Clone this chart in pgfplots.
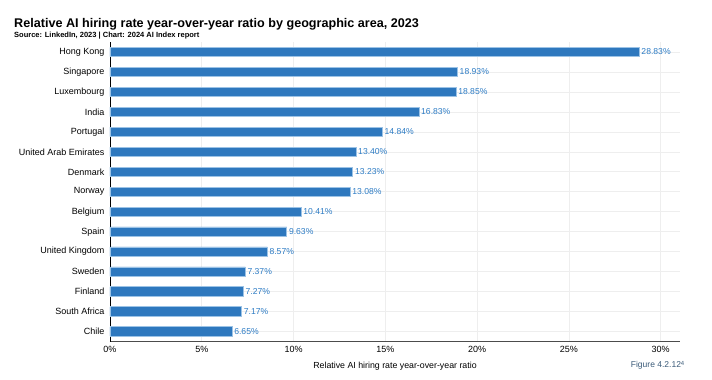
\documentclass[border=0pt]{standalone}
\usepackage{pgfplots}
\pgfplotsset{compat=1.18}
\usepackage{fontspec}
\setmainfont{Liberation Sans}
\definecolor{barblue}{HTML}{2E78BE}
\definecolor{baredge}{HTML}{9CC3E6}
\definecolor{lblblue}{HTML}{2C7BC4}
\definecolor{gridc}{HTML}{EEEEEE}
\definecolor{figc}{HTML}{3A5A78}
\begin{document}
\begin{tikzpicture}[x=1pt,y=1pt]
\path[use as bounding box] (0,0) rectangle (712,380);
\node[inner sep=0pt,anchor=base west,font=\bfseries\fontsize{12.6}{15}\selectfont] at (14,352) {Relative AI hiring rate year-over-year ratio by geographic area, 2023};
\node[inner sep=0pt,anchor=base west,font=\bfseries\fontsize{7.5}{8}\selectfont] at (14,342) {Source: LinkedIn, 2023 | Chart: 2024 AI Index report};
\node[inner sep=0pt,anchor=base east,font=\fontsize{8.5}{10}\selectfont,text=figc] at (685,12) {Figure 4.2.12\textsuperscript{4}};
\begin{axis}[
  at={(110pt,38.5pt)}, anchor=south west,
  scale only axis, width=570pt, height=299.5pt,
  xbar, bar width=0.47,
  y dir=reverse,
  xmin=0, xmax=31.05, ymin=-0.5, ymax=14.5,
  ytick={0,...,14},
  yticklabels={Hong Kong,Singapore,Luxembourg,India,Portugal,United Arab Emirates,Denmark,Norway,Belgium,Spain,United Kingdom,Sweden,Finland,South Africa,Chile},
  xtick={0,5,...,30},
  xticklabel={\pgfmathprintnumber{\tick}\%},
  /pgf/number format/assume math mode=true,
  axis x line*=bottom, axis y line*=left,
  x axis line style={draw=black!70,line width=0.8pt},
  y axis line style={draw=black,line width=0.8pt},
  major tick length=0pt,
  grid=major, major grid style={gridc,line width=0.6pt},
  tick label style={font=\fontsize{9}{10}\selectfont},
  yticklabel style={xshift=-2pt},
  xticklabel style={yshift=-1pt},
  xlabel={Relative AI hiring rate year-over-year ratio},
  xlabel style={font=\fontsize{8.8}{10}\selectfont, yshift=-3pt},
  point meta=x,
  nodes near coords={\pgfmathprintnumber[fixed,fixed zerofill,precision=2]{\pgfplotspointmeta}\%},
  nodes near coords style={font=\fontsize{8.6}{10}\selectfont,text=lblblue,anchor=west,xshift=-1.5pt},
]
\addplot[fill=barblue,draw=baredge,line width=0.8pt] coordinates {
(28.83,0) (18.93,1) (18.85,2) (16.83,3) (14.84,4) (13.40,5) (13.23,6) (13.08,7) (10.41,8) (9.63,9) (8.57,10) (7.37,11) (7.27,12) (7.17,13) (6.65,14)
};
\end{axis}
\end{tikzpicture}
\end{document}
